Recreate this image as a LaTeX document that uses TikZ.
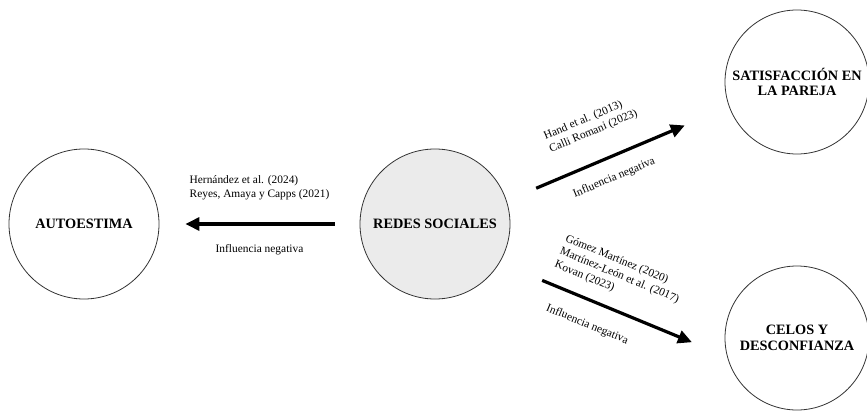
\documentclass[tikz,border=0pt]{standalone}
\usepackage{fontspec}
\setmainfont{Liberation Serif}
\usetikzlibrary{arrows.meta}
\tikzset{
  circulo/.style={circle, draw=black!80, line width=0.8pt, inner sep=0pt, align=center,
    font=\fontsize{14.3}{15.5}\selectfont\bfseries},
  flecha/.style={line width=3.2pt, -{Triangle[length=14pt,width=13pt]}},
  cita/.style={inner sep=0pt, align=left, font=\fontsize{11.4}{14}\selectfont},
}
\begin{document}
\begin{tikzpicture}[x=1pt,y=-1pt]
        \useasboundingbox (0,0) rectangle (867,412);
        \node[circulo, minimum size=150pt] (auto) at (84,224) {AUTOESTIMA};
        \node[circulo, minimum size=150pt, fill=black!8] (redes) at (435,224) {REDES SOCIALES};
        \node[circulo, minimum size=144pt] (satis) at (797,82) {SATISFACCIÓN EN\\LA PAREJA};
        \node[circulo, minimum size=144pt] (celos) at (797,338) {CELOS Y\\DESCONFIANZA};
        % flechas
        \draw[flecha, shorten <=25pt, shorten >=26pt] (redes.180) -- (auto.0)
            node[cita, pos=.5, above=22pt] {Hernández et al. (2024)\\Reyes, Amaya y Capps (2021)}
            node[cita, pos=.5, below=19pt] {Influencia negativa};
        \draw[flecha, shorten <=32pt, shorten >=48pt] (redes.18) -- (satis.200)
            node[cita, sloped, pos=.443, above=23pt] {Hand et al. (2013)\\Calli Romani (2023)}
            node[cita, sloped, pos=.447, below=14pt] {Influencia negativa};
        \draw[flecha, shorten <=46pt, shorten >=38pt] (redes.-31) -- (celos.195)
            node[cita, sloped, pos=.47, above=13pt] {Gómez Martínez (2020)\\Martínez-León et al. (2017)\\Kovan (2023)}
            node[cita, sloped, pos=.425, below=17pt] {Influencia negativa};
\end{tikzpicture}
\end{document}
